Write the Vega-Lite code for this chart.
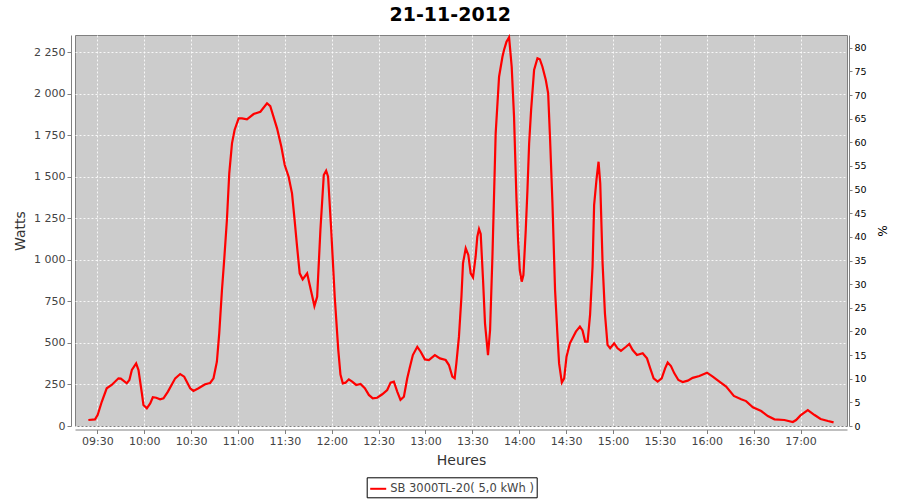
{
  "$schema": "https://vega.github.io/schema/vega-lite/v6.json",
  "width": 772,
  "height": 391,
  "autosize": "none",
  "padding": {"left": 75, "top": 35, "right": 53, "bottom": 74},
  "background": "white",
  "config": {
    "font": "DejaVu Sans",
    "view": {"fill": "#cccccc", "stroke": "#808080", "strokeWidth": 1},
    "axis": {
      "domainColor": "#808080",
      "tickColor": "#808080",
      "labelColor": "#444444",
      "labelFont": "DejaVu Sans",
      "labelFontSize": 11,
      "titleFont": "DejaVu Sans",
      "titleFontSize": 14,
      "titleFontWeight": "normal",
      "titleColor": "#333333",
      "gridColor": "#ffffff",
      "gridDash": [2, 2],
      "gridOpacity": 0.85,
      "gridWidth": 1
    }
  },
  "title": {
    "text": "21-11-2012",
    "font": "DejaVu Sans",
    "fontSize": 19,
    "fontWeight": "bold",
    "color": "#000000",
    "anchor": "middle",
    "frame": "bounds",
    "offset": 8
  },
  "layer": [
    {
      "data": {
        "values": [
          {"t": "2012-11-21T09:24:15", "w": 36},
          {"t": "2012-11-21T09:28:30", "w": 40},
          {"t": "2012-11-21T09:30:10", "w": 66},
          {"t": "2012-11-21T09:32:50", "w": 146},
          {"t": "2012-11-21T09:36:00", "w": 227},
          {"t": "2012-11-21T09:39:10", "w": 247},
          {"t": "2012-11-21T09:43:30", "w": 287},
          {"t": "2012-11-21T09:45:00", "w": 285},
          {"t": "2012-11-21T09:48:50", "w": 257},
          {"t": "2012-11-21T09:50:30", "w": 277},
          {"t": "2012-11-21T09:52:05", "w": 337},
          {"t": "2012-11-21T09:54:50", "w": 377},
          {"t": "2012-11-21T09:56:20", "w": 337},
          {"t": "2012-11-21T09:58:30", "w": 197},
          {"t": "2012-11-21T09:59:30", "w": 126},
          {"t": "2012-11-21T10:01:40", "w": 106},
          {"t": "2012-11-21T10:03:50", "w": 136},
          {"t": "2012-11-21T10:05:30", "w": 173},
          {"t": "2012-11-21T10:07:40", "w": 170},
          {"t": "2012-11-21T10:10:10", "w": 161},
          {"t": "2012-11-21T10:12:20", "w": 167},
          {"t": "2012-11-21T10:15:10", "w": 207},
          {"t": "2012-11-21T10:19:50", "w": 287},
          {"t": "2012-11-21T10:23:00", "w": 313},
          {"t": "2012-11-21T10:25:35", "w": 297},
          {"t": "2012-11-21T10:29:25", "w": 227},
          {"t": "2012-11-21T10:31:30", "w": 211},
          {"t": "2012-11-21T10:34:45", "w": 227},
          {"t": "2012-11-21T10:39:00", "w": 251},
          {"t": "2012-11-21T10:42:10", "w": 259},
          {"t": "2012-11-21T10:44:20", "w": 287},
          {"t": "2012-11-21T10:46:30", "w": 387},
          {"t": "2012-11-21T10:48:00", "w": 558},
          {"t": "2012-11-21T10:49:45", "w": 819},
          {"t": "2012-11-21T10:51:10", "w": 999},
          {"t": "2012-11-21T10:52:55", "w": 1240},
          {"t": "2012-11-21T10:54:25", "w": 1521},
          {"t": "2012-11-21T10:56:10", "w": 1702},
          {"t": "2012-11-21T10:57:50", "w": 1782},
          {"t": "2012-11-21T11:00:25", "w": 1852},
          {"t": "2012-11-21T11:02:35", "w": 1852},
          {"t": "2012-11-21T11:05:45", "w": 1846},
          {"t": "2012-11-21T11:10:00", "w": 1878},
          {"t": "2012-11-21T11:14:20", "w": 1892},
          {"t": "2012-11-21T11:18:35", "w": 1943},
          {"t": "2012-11-21T11:20:40", "w": 1926},
          {"t": "2012-11-21T11:25:00", "w": 1792},
          {"t": "2012-11-21T11:27:45", "w": 1681},
          {"t": "2012-11-21T11:29:55", "w": 1571},
          {"t": "2012-11-21T11:32:25", "w": 1501},
          {"t": "2012-11-21T11:34:35", "w": 1401},
          {"t": "2012-11-21T11:36:15", "w": 1240},
          {"t": "2012-11-21T11:37:50", "w": 1079},
          {"t": "2012-11-21T11:39:30", "w": 919},
          {"t": "2012-11-21T11:41:25", "w": 883},
          {"t": "2012-11-21T11:44:15", "w": 919},
          {"t": "2012-11-21T11:45:40", "w": 859},
          {"t": "2012-11-21T11:48:55", "w": 722},
          {"t": "2012-11-21T11:50:40", "w": 778},
          {"t": "2012-11-21T11:52:45", "w": 1180},
          {"t": "2012-11-21T11:54:55", "w": 1511},
          {"t": "2012-11-21T11:56:25", "w": 1537},
          {"t": "2012-11-21T11:57:40", "w": 1501},
          {"t": "2012-11-21T11:59:40", "w": 1180},
          {"t": "2012-11-21T12:01:55", "w": 778},
          {"t": "2012-11-21T12:04:10", "w": 460},
          {"t": "2012-11-21T12:05:35", "w": 310},
          {"t": "2012-11-21T12:07:05", "w": 257},
          {"t": "2012-11-21T12:08:50", "w": 261},
          {"t": "2012-11-21T12:10:55", "w": 281},
          {"t": "2012-11-21T12:13:05", "w": 267},
          {"t": "2012-11-21T12:15:40", "w": 247},
          {"t": "2012-11-21T12:18:25", "w": 253},
          {"t": "2012-11-21T12:21:10", "w": 227},
          {"t": "2012-11-21T12:23:45", "w": 187},
          {"t": "2012-11-21T12:26:15", "w": 167},
          {"t": "2012-11-21T12:29:05", "w": 170},
          {"t": "2012-11-21T12:32:20", "w": 191},
          {"t": "2012-11-21T12:35:30", "w": 217},
          {"t": "2012-11-21T12:37:40", "w": 261},
          {"t": "2012-11-21T12:39:45", "w": 267},
          {"t": "2012-11-21T12:41:55", "w": 207},
          {"t": "2012-11-21T12:44:00", "w": 157},
          {"t": "2012-11-21T12:46:10", "w": 176},
          {"t": "2012-11-21T12:48:20", "w": 287},
          {"t": "2012-11-21T12:49:50", "w": 347},
          {"t": "2012-11-21T12:51:55", "w": 427},
          {"t": "2012-11-21T12:54:45", "w": 477},
          {"t": "2012-11-21T12:56:55", "w": 447},
          {"t": "2012-11-21T12:59:35", "w": 401},
          {"t": "2012-11-21T13:02:10", "w": 397},
          {"t": "2012-11-21T13:06:00", "w": 427},
          {"t": "2012-11-21T13:09:15", "w": 407},
          {"t": "2012-11-21T13:12:55", "w": 397},
          {"t": "2012-11-21T13:15:00", "w": 367},
          {"t": "2012-11-21T13:17:10", "w": 297},
          {"t": "2012-11-21T13:18:40", "w": 287},
          {"t": "2012-11-21T13:19:45", "w": 377},
          {"t": "2012-11-21T13:21:25", "w": 538},
          {"t": "2012-11-21T13:23:00", "w": 778},
          {"t": "2012-11-21T13:24:00", "w": 979},
          {"t": "2012-11-21T13:25:45", "w": 1070},
          {"t": "2012-11-21T13:27:25", "w": 1030},
          {"t": "2012-11-21T13:28:55", "w": 919},
          {"t": "2012-11-21T13:30:25", "w": 895},
          {"t": "2012-11-21T13:32:05", "w": 1019},
          {"t": "2012-11-21T13:33:10", "w": 1140},
          {"t": "2012-11-21T13:34:15", "w": 1186},
          {"t": "2012-11-21T13:35:20", "w": 1156},
          {"t": "2012-11-21T13:36:50", "w": 879},
          {"t": "2012-11-21T13:38:05", "w": 618},
          {"t": "2012-11-21T13:40:00", "w": 427},
          {"t": "2012-11-21T13:41:20", "w": 578},
          {"t": "2012-11-21T13:42:50", "w": 1019},
          {"t": "2012-11-21T13:44:55", "w": 1762},
          {"t": "2012-11-21T13:47:05", "w": 2103},
          {"t": "2012-11-21T13:49:15", "w": 2223},
          {"t": "2012-11-21T13:50:15", "w": 2264},
          {"t": "2012-11-21T13:51:50", "w": 2313},
          {"t": "2012-11-21T13:53:30", "w": 2340},
          {"t": "2012-11-21T13:55:10", "w": 2163},
          {"t": "2012-11-21T13:56:40", "w": 1862},
          {"t": "2012-11-21T13:58:10", "w": 1380},
          {"t": "2012-11-21T13:59:15", "w": 1120},
          {"t": "2012-11-21T14:00:20", "w": 939},
          {"t": "2012-11-21T14:01:35", "w": 869},
          {"t": "2012-11-21T14:02:40", "w": 909},
          {"t": "2012-11-21T14:04:10", "w": 1180},
          {"t": "2012-11-21T14:05:15", "w": 1421},
          {"t": "2012-11-21T14:06:20", "w": 1702},
          {"t": "2012-11-21T14:07:35", "w": 1902},
          {"t": "2012-11-21T14:09:30", "w": 2143},
          {"t": "2012-11-21T14:11:40", "w": 2214},
          {"t": "2012-11-21T14:13:10", "w": 2208},
          {"t": "2012-11-21T14:14:50", "w": 2163},
          {"t": "2012-11-21T14:17:00", "w": 2083},
          {"t": "2012-11-21T14:18:30", "w": 2003},
          {"t": "2012-11-21T14:19:45", "w": 1722},
          {"t": "2012-11-21T14:21:15", "w": 1341},
          {"t": "2012-11-21T14:22:55", "w": 819},
          {"t": "2012-11-21T14:24:30", "w": 538},
          {"t": "2012-11-21T14:25:30", "w": 377},
          {"t": "2012-11-21T14:27:15", "w": 262},
          {"t": "2012-11-21T14:28:45", "w": 287},
          {"t": "2012-11-21T14:30:15", "w": 417},
          {"t": "2012-11-21T14:32:25", "w": 498},
          {"t": "2012-11-21T14:34:05", "w": 528},
          {"t": "2012-11-21T14:36:15", "w": 568},
          {"t": "2012-11-21T14:38:50", "w": 598},
          {"t": "2012-11-21T14:40:30", "w": 575},
          {"t": "2012-11-21T14:42:10", "w": 508},
          {"t": "2012-11-21T14:43:45", "w": 508},
          {"t": "2012-11-21T14:45:20", "w": 670},
          {"t": "2012-11-21T14:46:55", "w": 960},
          {"t": "2012-11-21T14:47:55", "w": 1330},
          {"t": "2012-11-21T14:49:30", "w": 1490},
          {"t": "2012-11-21T14:50:45", "w": 1591},
          {"t": "2012-11-21T14:51:50", "w": 1461},
          {"t": "2012-11-21T14:53:20", "w": 979},
          {"t": "2012-11-21T14:54:50", "w": 678},
          {"t": "2012-11-21T14:56:30", "w": 488},
          {"t": "2012-11-21T14:58:10", "w": 468},
          {"t": "2012-11-21T15:00:45", "w": 498},
          {"t": "2012-11-21T15:02:55", "w": 468},
          {"t": "2012-11-21T15:05:05", "w": 453},
          {"t": "2012-11-21T15:08:20", "w": 477},
          {"t": "2012-11-21T15:10:25", "w": 494},
          {"t": "2012-11-21T15:12:35", "w": 457},
          {"t": "2012-11-21T15:15:20", "w": 427},
          {"t": "2012-11-21T15:19:00", "w": 438},
          {"t": "2012-11-21T15:21:45", "w": 407},
          {"t": "2012-11-21T15:23:50", "w": 347},
          {"t": "2012-11-21T15:26:00", "w": 287},
          {"t": "2012-11-21T15:28:35", "w": 267},
          {"t": "2012-11-21T15:31:10", "w": 287},
          {"t": "2012-11-21T15:33:20", "w": 347},
          {"t": "2012-11-21T15:35:00", "w": 382},
          {"t": "2012-11-21T15:37:05", "w": 361},
          {"t": "2012-11-21T15:39:15", "w": 317},
          {"t": "2012-11-21T15:41:50", "w": 277},
          {"t": "2012-11-21T15:44:35", "w": 265},
          {"t": "2012-11-21T15:47:50", "w": 273},
          {"t": "2012-11-21T15:51:00", "w": 290},
          {"t": "2012-11-21T15:55:15", "w": 301},
          {"t": "2012-11-21T16:00:10", "w": 321},
          {"t": "2012-11-21T16:03:50", "w": 297},
          {"t": "2012-11-21T16:08:05", "w": 267},
          {"t": "2012-11-21T16:12:25", "w": 237},
          {"t": "2012-11-21T16:17:20", "w": 181},
          {"t": "2012-11-21T16:22:00", "w": 161},
          {"t": "2012-11-21T16:25:10", "w": 150},
          {"t": "2012-11-21T16:29:30", "w": 113},
          {"t": "2012-11-21T16:34:50", "w": 90},
          {"t": "2012-11-21T16:39:05", "w": 60},
          {"t": "2012-11-21T16:43:20", "w": 40},
          {"t": "2012-11-21T16:49:40", "w": 36},
          {"t": "2012-11-21T16:55:05", "w": 24},
          {"t": "2012-11-21T16:57:10", "w": 36},
          {"t": "2012-11-21T17:00:00", "w": 64},
          {"t": "2012-11-21T17:04:40", "w": 96},
          {"t": "2012-11-21T17:09:00", "w": 66},
          {"t": "2012-11-21T17:12:50", "w": 42},
          {"t": "2012-11-21T17:17:35", "w": 30},
          {"t": "2012-11-21T17:21:10", "w": 22}
        ]
      },
      "mark": {"type": "line", "strokeWidth": 2.2, "interpolate": "linear"},
      "encoding": {
        "x": {
          "field": "t",
          "type": "temporal",
          "scale": {"nice": false},
          "axis": {
            "title": "Heures",
            "format": "%H:%M",
            "tickCount": 16,
            "grid": true,
            "offset": 3.5,
            "tickSize": 4,
            "labelPadding": 2,
            "titlePadding": 7,
            "labelFlush": false,
            "labelOverlap": false
          }
        },
        "y": {
          "field": "w",
          "type": "quantitative",
          "scale": {"domain": [0, 2354], "nice": false},
          "axis": {
            "title": "Watts",
            "values": [0, 250, 500, 750, 1000, 1250, 1500, 1750, 2000, 2250],
            "labelExpr": "replace(format(datum.value, ',d'), ',', ' ')",
            "grid": true,
            "offset": 4,
            "tickSize": 4,
            "labelPadding": 2,
            "titlePadding": 6
          }
        },
        "color": {
          "datum": "SB 3000TL-20( 5,0 kWh )",
          "type": "nominal",
          "scale": {"range": ["#ff0000"]},
          "legend": {
            "title": null,
            "orient": "none",
            "legendX": 291.7,
            "legendY": 442.3,
            "direction": "horizontal",
            "strokeColor": "#000000",
            "fillColor": "#ffffff",
            "padding": 2.5,
            "symbolType": "stroke",
            "symbolSize": 256,
            "symbolStrokeWidth": 2,
            "labelFont": "DejaVu Sans",
            "labelFontSize": 11.5,
            "labelColor": "#444444",
            "labelOffset": 3,
            "labelLimit": 400
          }
        }
      }
    },
    {
      "data": {
        "values": [
          {"t": "2012-11-21T09:15:42", "p": 0},
          {"t": "2012-11-21T17:29:45", "p": 80}
        ]
      },
      "mark": {"type": "point", "opacity": 0},
      "encoding": {
        "x": {"field": "t", "type": "temporal"},
        "y": {
          "field": "p",
          "type": "quantitative",
          "scale": {"domain": [0, 82.7], "nice": false},
          "axis": {
            "orient": "right",
            "title": "%",
            "values": [0, 5, 10, 15, 20, 25, 30, 35, 40, 45, 50, 55, 60, 65, 70, 75, 80],
            "grid": false,
            "offset": 2,
            "tickSize": 3,
            "labelFontSize": 9.5,
            "labelColor": "#000000",
            "labelPadding": 2,
            "titleColor": "#000000",
            "titleFontSize": 12,
            "titlePadding": 8
          }
        }
      }
    }
  ],
  "resolve": {"scale": {"y": "independent"}}
}
